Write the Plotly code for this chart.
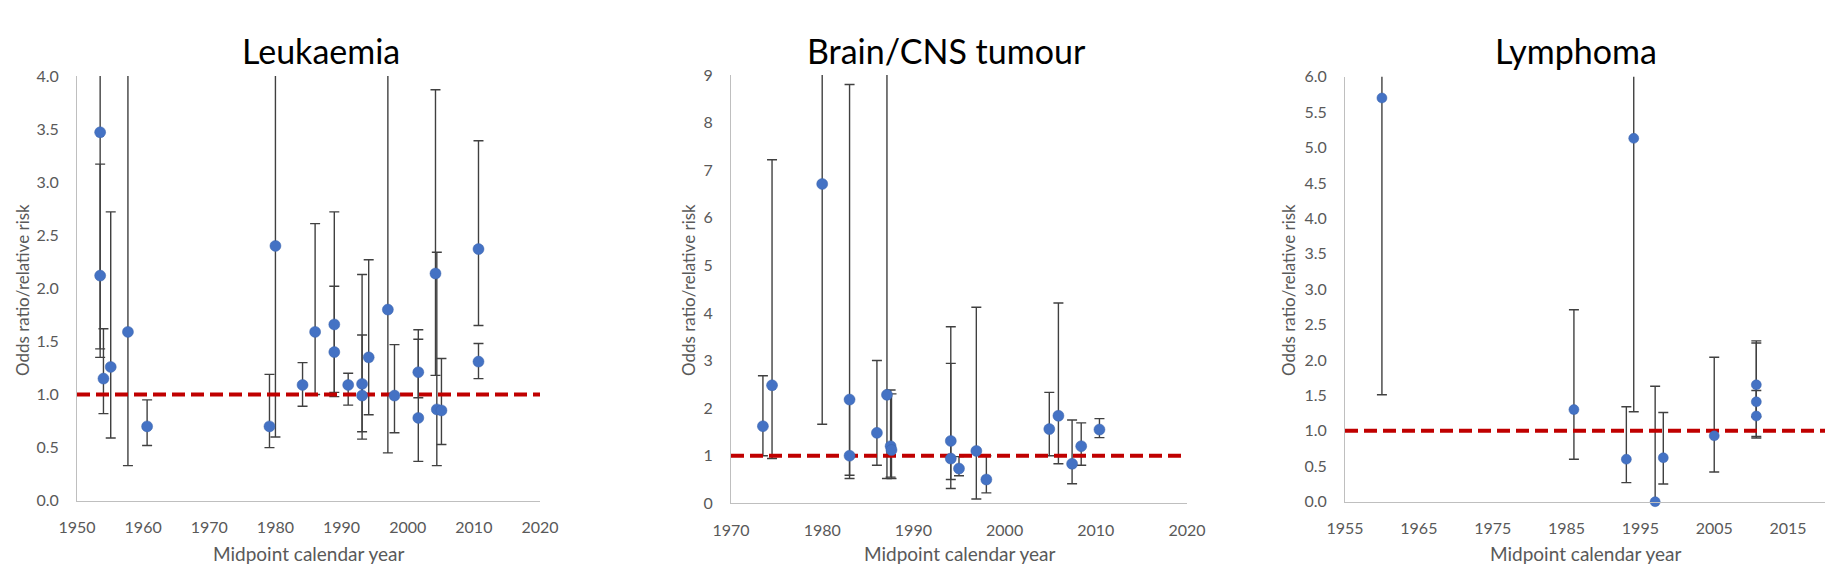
import plotly.graph_objects as go

# ---------------- data ----------------
leuk_year = [1953.5, 1953.5, 1954.0, 1955.1, 1957.7, 1960.6, 1979.1, 1980.0, 1984.1, 1986.0,
             1988.9, 1988.9, 1991.0, 1993.1, 1993.1, 1994.1, 1997.0, 1998.0, 2001.6, 2001.6,
             2004.2, 2004.4, 2005.1, 2010.7, 2010.7]
leuk_or = [3.47, 2.12, 1.15, 1.26, 1.59, 0.70, 0.70, 2.40, 1.09, 1.59,
           1.66, 1.40, 1.09, 1.10, 0.99, 1.35, 1.80, 0.99, 1.21, 0.78,
           2.14, 0.86, 0.85, 2.37, 1.31]
leuk_lo = [1.43, 1.35, 0.82, 0.59, 0.33, 0.52, 0.50, 0.60, 0.89, 1.00,
           1.02, 0.98, 0.90, 0.58, 0.65, 0.81, 0.45, 0.64, 0.97, 0.37,
           1.18, 0.33, 0.53, 1.65, 1.15]
leuk_hi = [8.40, 3.17, 1.62, 2.72, 6.20, 0.95, 1.19, 9.80, 1.30, 2.61,
           2.72, 2.02, 1.20, 2.13, 1.56, 2.27, 5.60, 1.47, 1.52, 1.61,
           3.87, 2.34, 1.34, 3.39, 1.48]

brain_year = [1973.5, 1974.5, 1980.0, 1983.0, 1983.0, 1986.0, 1987.1, 1987.5, 1987.6,
              1994.1, 1994.1, 1995.0, 1996.9, 1998.0, 2004.9, 2005.9, 2007.4, 2008.4, 2010.4]
brain_or = [1.62, 2.48, 6.71, 2.18, 1.00, 1.48, 2.28, 1.20, 1.12,
            1.31, 0.94, 0.73, 1.10, 0.50, 1.56, 1.84, 0.83, 1.20, 1.55]
brain_lo = [1.00, 0.94, 1.66, 0.59, 0.52, 0.80, 0.52, 0.55, 0.52,
            0.50, 0.31, 0.58, 0.09, 0.22, 1.00, 0.83, 0.41, 0.80, 1.38]
brain_hi = [2.68, 7.22, 14.0, 8.80, 2.20, 3.00, 15.0, 2.38, 2.30,
            3.71, 2.94, 0.98, 4.12, 1.00, 2.33, 4.21, 1.75, 1.69, 1.78]

lymph_year = [1960.0, 1986.0, 1993.1, 1994.1, 1997.0, 1998.1, 2005.0, 2010.7, 2010.7, 2010.7]
lymph_or = [5.70, 1.30, 0.60, 5.13, 0.00, 0.62, 0.93, 1.65, 1.41, 1.21]
lymph_lo = [1.51, 0.60, 0.27, 1.27, 0.00, 0.25, 0.42, 1.20, 0.92, 0.90]
lymph_hi = [14.0, 2.71, 1.34, 20.0, 1.63, 1.26, 2.04, 2.27, 2.24, 1.57]

titles = ["Leukaemia", "Brain/CNS tumour", "Lymphoma"]
y_title = "Odds ratio/relative risk"
x_title = "Midpoint calendar year"
ref_value = 1.0

x_ranges = [[1950, 2020], [1970, 2020], [1955, 2020]]
x_tick0 = [1950, 1970, 1955]
y_ranges = [[0, 4], [0, 9], [0, 6]]
y_dtick = [0.5, 1, 0.5]
y_fmt = [".1f", "d", ".1f"]

# ---------------- layout geometry ----------------
W, H = 1842, 577
OFF = 8  # page body offset
px_x = [(77, 540), (731, 1187), (1345, 1825)]
px_y = [(76, 500.7), (75, 503.3), (76.7, 501.7)]  # top, bottom (pixels from top)
title_x = [321, 946, 1576]
ytitle_x = [22, 688, 1288]

FONT = "Lato, Open Sans, sans-serif"
GREY = "#595959"
BLUE = "#4472C4"
ERR = "#404040"
RED = "#C00000"

fig = go.Figure()
datasets = [
    (leuk_year, leuk_or, leuk_lo, leuk_hi, 11),
    (brain_year, brain_or, brain_lo, brain_hi, 11),
    (lymph_year, lymph_or, lymph_lo, lymph_hi, 10),
]


def fx(p):
    return (p - OFF) / W


def fy(p):
    return (H - (p - OFF)) / H


annotations = []
for i, (yr, orr, lo, hi, msize) in enumerate(datasets):
    sfx = "" if i == 0 else str(i + 1)
    xa, ya = "x" + sfx, "y" + sfx
    plus = [h - o for h, o in zip(hi, orr)]
    minus = [o - l for o, l in zip(orr, lo)]
    # error bars (clipped to plot area)
    fig.add_trace(go.Scatter(
        x=yr, y=orr, mode="markers", xaxis=xa, yaxis=ya,
        marker=dict(size=1, opacity=0),
        error_y=dict(type="data", symmetric=False, array=plus, arrayminus=minus,
                     color=ERR, thickness=1.4, width=5),
        cliponaxis=True, showlegend=False, hoverinfo="skip"))
    # reference line
    fig.add_trace(go.Scatter(
        x=x_ranges[i], y=[ref_value, ref_value], mode="lines", xaxis=xa, yaxis=ya,
        line=dict(color=RED, width=4, dash="13px,6px"),
        showlegend=False, hoverinfo="skip"))
    # markers
    fig.add_trace(go.Scatter(
        x=yr, y=orr, mode="markers", xaxis=xa, yaxis=ya,
        marker=dict(size=msize, color=BLUE, line=dict(width=0.5, color="#3A62AA")),
        cliponaxis=False, showlegend=False))

    x0, x1 = px_x[i]
    yt, yb = px_y[i]
    fig.update_layout(**{
        "xaxis" + sfx: dict(
            domain=[fx(x0), fx(x1)], range=x_ranges[i], anchor=ya, automargin=False,
            tick0=x_tick0[i], dtick=10, showgrid=False, zeroline=False,
            showline=True, linecolor="#BFBFBF", linewidth=1, ticks="",
            ticklabelstandoff=12,
            tickfont=dict(family=FONT, size=16, color=GREY)),
        "yaxis" + sfx: dict(
            domain=[fy(yb), fy(yt)], range=y_ranges[i], anchor=xa, automargin=False,
            dtick=y_dtick[i], tickformat=y_fmt[i], showgrid=False, zeroline=False,
            showline=True, linecolor="#BFBFBF", linewidth=1, ticks="",
            ticklabelstandoff=14,
            tickfont=dict(family=FONT, size=16, color=GREY)),
    })
    annotations.append(dict(
        text=titles[i], x=fx(title_x[i]), y=fy(50), xref="paper", yref="paper",
        showarrow=False, xanchor="center", yanchor="middle",
        font=dict(family=FONT, size=34, color="#000000")))
    annotations.append(dict(
        text=y_title, x=fx(ytitle_x[i]), y=fy(290), xref="paper", yref="paper",
        showarrow=False, xanchor="center", yanchor="middle", textangle=-90,
        font=dict(family=FONT, size=17, color=GREY)))
    annotations.append(dict(
        text=x_title, x=fx((x0 + x1) / 2), y=fy(553), xref="paper", yref="paper",
        showarrow=False, xanchor="center", yanchor="middle",
        font=dict(family=FONT, size=19, color=GREY)))

fig.update_layout(
    width=W, height=H, margin=dict(l=0, r=0, t=0, b=0, autoexpand=False),
    paper_bgcolor="white", plot_bgcolor="white",
    annotations=annotations, showlegend=False)

fig.write_html("out.html")
